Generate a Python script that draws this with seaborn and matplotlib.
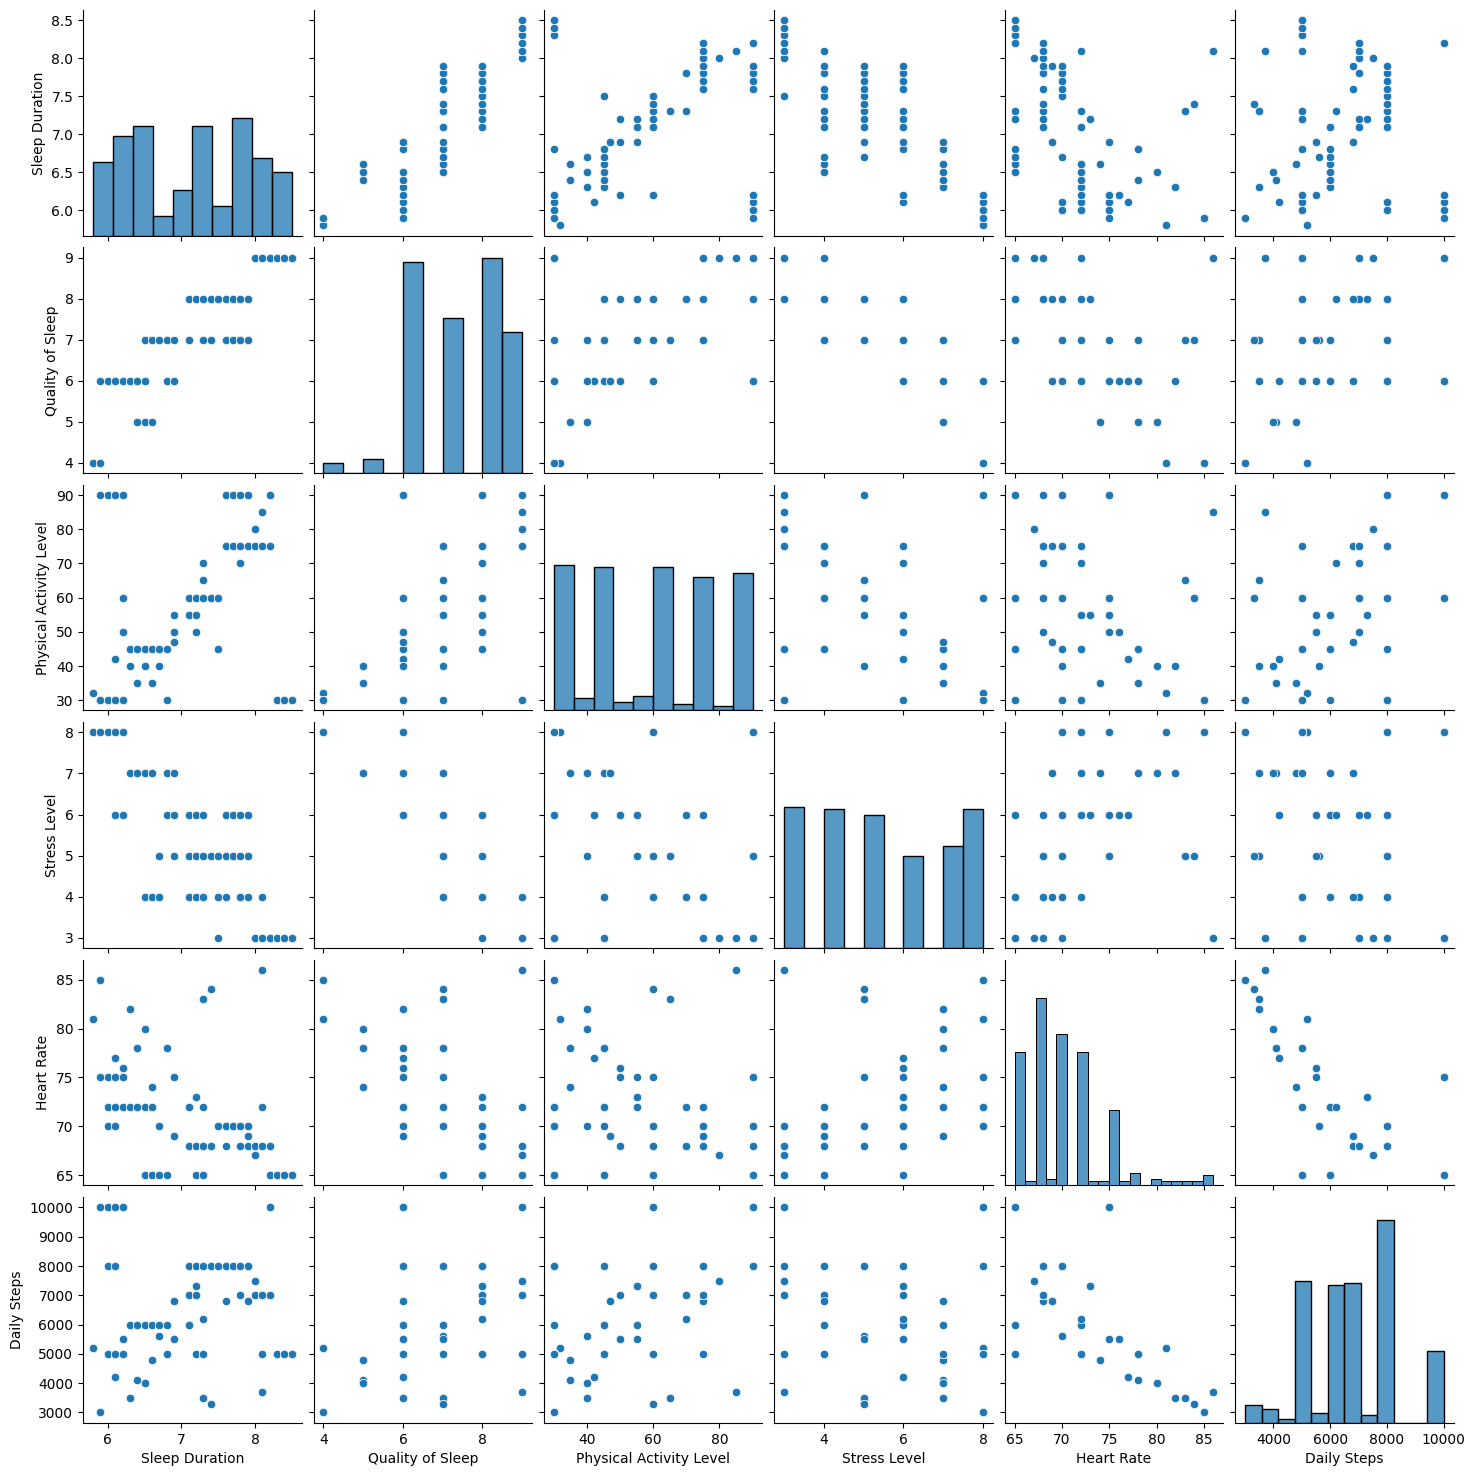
import numpy as np
import pandas as pd
import matplotlib
matplotlib.use("Agg")
import matplotlib.pyplot as plt
import seaborn as sns

# Distinct records (profiles), with how many times each occurs
sleep_duration = [5.8, 5.9, 5.9, 6.0, 6.0, 6.0, 6.1, 6.1, 6.1, 6.1, 6.2, 6.2, 6.2, 6.2,
                  6.3, 6.3, 6.4, 6.4, 6.5, 6.5, 6.5, 6.6, 6.6, 6.6, 6.7, 6.7, 6.8, 6.8, 6.8,
                  6.9, 6.9, 6.9,
                  7.1, 7.1, 7.1, 7.2, 7.2, 7.2, 7.2, 7.2, 7.3, 7.3, 7.3, 7.3, 7.4, 7.4,
                  7.5, 7.5, 7.5, 7.6, 7.6, 7.6, 7.7, 7.7, 7.8, 7.8, 7.8, 7.9, 7.9, 7.9, 7.9,
                  8.0, 8.0, 8.1, 8.1, 8.1, 8.2, 8.2, 8.3, 8.4, 8.5]
quality_of_sleep = [4, 4, 6, 6, 6, 6, 6, 6, 6, 6, 6, 6, 6, 6,
                    6, 6, 5, 6, 5, 6, 7, 5, 7, 7, 7, 7, 6, 7, 7,
                    7, 6, 6,
                    7, 8, 8, 8, 8, 8, 8, 8, 7, 8, 8, 8, 8, 7,
                    8, 8, 8, 7, 8, 8, 7, 8, 7, 8, 8, 7, 8, 8, 8,
                    9, 9, 9, 9, 9, 9, 9, 9, 9, 9]
physical_activity = [32, 30, 90, 90, 30, 30, 90, 30, 30, 42, 90, 60, 30, 50,
                     40, 45, 35, 45, 40, 45, 45, 35, 45, 45, 45, 40, 45, 45, 30,
                     55, 47, 50,
                     55, 60, 60, 60, 60, 60, 55, 50, 65, 60, 60, 70, 60, 60,
                     45, 60, 60, 75, 90, 75, 75, 90, 75, 90, 70, 75, 90, 75, 90,
                     75, 80, 85, 75, 75, 90, 75, 30, 30, 30]
stress_level = [8, 8, 8, 8, 8, 8, 8, 8, 8, 6, 8, 8, 8, 6,
                7, 7, 7, 7, 7, 7, 4, 7, 4, 7, 4, 5, 7, 7, 6,
                5, 7, 6,
                6, 4, 5, 4, 5, 4, 6, 6, 5, 5, 4, 6, 5, 5,
                3, 5, 4, 6, 5, 4, 6, 5, 6, 5, 4, 6, 5, 4, 5,
                3, 3, 3, 3, 4, 3, 3, 3, 3, 3]
heart_rate = [81, 85, 75, 75, 70, 72, 75, 70, 72, 77, 75, 75, 72, 76,
              82, 72, 78, 72, 80, 72, 65, 74, 65, 72, 65, 70, 78, 78, 65,
              75, 69, 75,
              72, 68, 68, 68, 68, 65, 73, 68, 83, 68, 65, 72, 68, 84,
              70, 70, 70, 70, 70, 68, 70, 70, 70, 70, 68, 70, 70, 69, 68,
              68, 67, 86, 68, 72, 65, 68, 65, 65, 65]
daily_steps = [5200, 3000, 10000, 10000, 8000, 5000, 10000, 8000, 5000, 4200, 10000, 10000, 5000, 5500,
               3500, 6000, 4100, 6000, 4000, 6000, 6000, 4800, 6000, 6000, 6000, 5600, 5000, 5000, 6000,
               5500, 6800, 5500,
               6000, 7000, 8000, 7000, 8000, 5000, 7300, 7000, 3500, 8000, 5000, 6200, 8000, 3300,
               8000, 8000, 8000, 8000, 8000, 6800, 8000, 8000, 8000, 8000, 7000, 8000, 8000, 6800, 8000,
               7000, 7500, 3700, 7000, 5000, 10000, 7000, 5000, 5000, 5000]
record_count = [2, 3, 1, 16, 3, 12, 12, 3, 8, 2, 3, 2, 5, 2,
                2, 11, 2, 7, 3, 12, 11, 2, 12, 6, 4, 1, 2, 2, 1,
                1, 2, 1,
                4, 12, 3, 19, 12, 2, 2, 1, 2, 8, 3, 1, 3, 2,
                1, 2, 2, 4, 5, 1, 12, 12, 13, 13, 2, 3, 2, 1, 1,
                11, 2, 2, 12, 1, 2, 9, 7, 14, 11]

base = pd.DataFrame({
    "Sleep Duration": sleep_duration,
    "Quality of Sleep": quality_of_sleep,
    "Physical Activity Level": physical_activity,
    "Stress Level": stress_level,
    "Heart Rate": heart_rate,
    "Daily Steps": daily_steps,
})
df = base.loc[base.index.repeat(record_count)].reset_index(drop=True)

g = sns.pairplot(df)
g.figure.savefig("out.png", dpi=100, bbox_inches="tight")
